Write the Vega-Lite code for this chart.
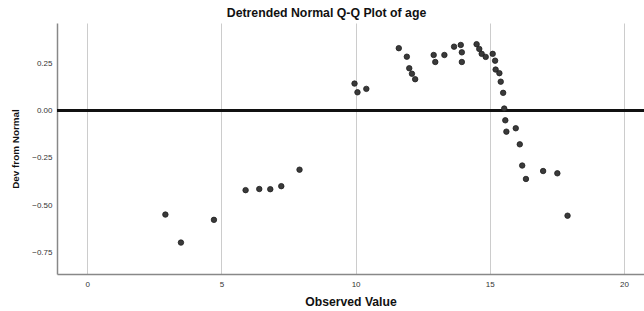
{
  "$schema": "https://vega.github.io/schema/vega-lite/v6.json",
  "width": 587,
  "height": 251,
  "autosize": {"type": "none"},
  "padding": {"left": 57, "top": 23, "right": 0, "bottom": 37},
  "background": "white",
  "title": {"text": "Detrended Normal Q-Q Plot of age", "anchor": "start", "dx": 216, "offset": 4, "font": "Liberation Sans", "fontSize": 12.3, "fontWeight": "bold", "color": "#111"},
  "config": {
    "view": {"stroke": null},
    "axis": {"labelFont": "Liberation Sans", "titleFont": "Liberation Sans", "labelFontSize": 8, "labelColor": "#333", "titleFontWeight": "bold", "titleColor": "#111", "gridColor": "#cccccc", "gridWidth": 1, "gridOpacity": 1, "domainColor": "#888888", "domainWidth": 1.5, "ticks": false}
  },
  "data": {"values": [
    {"obs": 2.91, "dev": -0.549},
    {"obs": 3.49, "dev": -0.697},
    {"obs": 4.72, "dev": -0.577},
    {"obs": 5.90, "dev": -0.420},
    {"obs": 6.41, "dev": -0.414},
    {"obs": 6.82, "dev": -0.415},
    {"obs": 7.23, "dev": -0.399},
    {"obs": 7.91, "dev": -0.312},
    {"obs": 9.96, "dev": 0.143},
    {"obs": 10.07, "dev": 0.097},
    {"obs": 10.40, "dev": 0.115},
    {"obs": 11.61, "dev": 0.330},
    {"obs": 11.91, "dev": 0.285},
    {"obs": 12.00, "dev": 0.224},
    {"obs": 12.10, "dev": 0.195},
    {"obs": 12.22, "dev": 0.166},
    {"obs": 12.91, "dev": 0.294},
    {"obs": 12.97, "dev": 0.257},
    {"obs": 13.31, "dev": 0.294},
    {"obs": 13.67, "dev": 0.338},
    {"obs": 13.92, "dev": 0.347},
    {"obs": 13.96, "dev": 0.308},
    {"obs": 13.96, "dev": 0.257},
    {"obs": 14.51, "dev": 0.351},
    {"obs": 14.61, "dev": 0.326},
    {"obs": 14.70, "dev": 0.300},
    {"obs": 14.85, "dev": 0.284},
    {"obs": 15.11, "dev": 0.300},
    {"obs": 15.20, "dev": 0.264},
    {"obs": 15.22, "dev": 0.217},
    {"obs": 15.36, "dev": 0.198},
    {"obs": 15.41, "dev": 0.153},
    {"obs": 15.50, "dev": 0.094},
    {"obs": 15.54, "dev": 0.011},
    {"obs": 15.58, "dev": -0.051},
    {"obs": 15.62, "dev": -0.111},
    {"obs": 15.97, "dev": -0.093},
    {"obs": 16.12, "dev": -0.178},
    {"obs": 16.21, "dev": -0.290},
    {"obs": 16.35, "dev": -0.361},
    {"obs": 16.99, "dev": -0.319},
    {"obs": 17.52, "dev": -0.331},
    {"obs": 17.90, "dev": -0.555}
  ]},
  "layer": [
    {
      "mark": {"type": "rule", "color": "#111111", "strokeWidth": 2.5},
      "encoding": {"y": {"datum": 0, "type": "quantitative"}}
    },
    {
      "mark": {"type": "point", "filled": true, "size": 30, "color": "#3a3a3a", "stroke": "#1e1e1e", "strokeWidth": 0.8, "opacity": 1},
      "encoding": {
        "x": {"field": "obs", "type": "quantitative", "scale": {"domain": [-1.13, 20.75], "nice": false, "zero": false},
              "axis": {"title": "Observed Value", "titleFontSize": 12.2, "values": [0, 5, 10, 15, 20], "format": "d", "labelPadding": 6, "titlePadding": 7}},
        "y": {"field": "dev", "type": "quantitative", "scale": {"domain": [-0.863, 0.463], "nice": false, "zero": false},
              "axis": {"title": "Dev from Normal", "titleFontSize": 9.9, "values": [-0.75, -0.5, -0.25, 0, 0.25], "format": ".2f", "labelPadding": 5, "titlePadding": 11}}
      }
    }
  ]
}
